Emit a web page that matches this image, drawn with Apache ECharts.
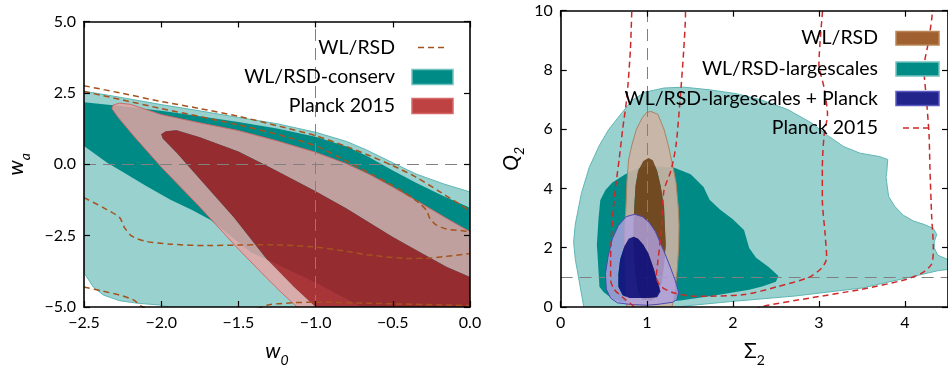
<!DOCTYPE html>
<html>
<head>
<meta charset="utf-8">
<script src="https://cdn.jsdelivr.net/npm/echarts@6.0.0/dist/echarts.min.js"></script>
<style>
  html, body { margin: 0; padding: 0; background: #fff; }
  #chart { width: 948px; height: 372px; }
</style>
</head>
<body>
<div id="chart"></div>
<script>
// ---------- left panel: w0 / wa ----------
const wTicksX = [-2.5, -2.0, -1.5, -1.0, -0.5, 0.0];
const wTicksY = [-5.0, -2.5, 0.0, 2.5, 5.0];

// WL/RSD-conserv, outer (2 sigma) contour
const conservOuter = [[-2.6,2.64],[-2.5,2.56],[-2.25,2.33],[-2.0,2.09],[-1.75,1.87],[-1.5,1.64],[-1.25,1.42],
  [-1.0,1.12],[-0.8,0.80],[-0.67,0.50],[-0.5,0.05],[-0.35,-0.34],[-0.17,-0.69],[0,-0.97],[0.1,-1.1],
  [0.1,-6.0],[-1.85,-6.0],[-1.85,-5.3],[-1.95,-5.0],[-2.01,-4.93],[-2.15,-4.87],[-2.27,-4.78],
  [-2.375,-4.58],[-2.44,-4.3],[-2.5,-3.8],[-2.6,-3.5]];
// WL/RSD-conserv, inner (1 sigma) contour
const conservInner = [[-2.6,2.25],[-2.5,2.17],[-2.25,2.03],[-2.0,1.87],[-1.75,1.68],[-1.5,1.48],[-1.25,1.25],
  [-1.0,0.96],[-0.8,0.62],[-0.67,0.30],[-0.5,-0.22],[-0.35,-0.65],[-0.17,-1.12],[0,-1.52],[0.1,-1.7],
  [0.1,-6.0],[-0.5,-6.0],[-0.6,-5.3],[-0.71,-4.97],[-1.0,-4.15],[-1.25,-3.5],[-1.42,-3.08],[-1.53,-2.6],
  [-1.68,-1.95],[-1.8,-1.6],[-1.94,-1.24],[-2.1,-0.75],[-2.24,-0.3],[-2.35,0.05],[-2.5,0.64],[-2.6,0.9]];
// Planck 2015, outer contour
const planckOuter = [[-2.32,1.95],[-2.31,2.08],[-2.27,2.14],[-2.2,2.1],[-2.0,1.74],[-1.75,1.45],[-1.5,1.18],
  [-1.25,0.82],[-1.0,0.42],[-0.8,0.02],[-0.65,-0.36],[-0.5,-0.8],[-0.3,-1.42],[-0.15,-1.9],
  [0,-2.36],[0.3,-2.9],[0.3,-6.5],[-0.9,-6.5],[-1.04,-5.5],[-1.12,-5.0],[-1.23,-4.45],[-1.32,-3.97],
  [-1.5,-2.97],[-1.75,-1.5],[-2.0,-0.1],[-2.18,1.0],[-2.28,1.65]];
// Planck 2015, inner contour
const planckInner = [[-2.0,1.05],[-1.97,1.16],[-1.9,1.19],[-1.75,0.95],[-1.5,0.45],[-1.3,-0.1],[-1.0,-0.95],
  [-0.8,-1.55],[-0.65,-2.05],[-0.5,-2.55],[-0.3,-3.15],[-0.15,-3.6],[0,-3.95],[0.2,-4.2],[0.2,-6.2],
  [-0.85,-6.2],[-0.9,-5.6],[-1.0,-5.0],[-1.14,-4.3],[-1.32,-3.3],[-1.53,-1.86],[-1.75,-0.52],[-1.9,0.4],[-1.99,0.9]];
// WL/RSD dashed contours
const wlUpper = [[-2.5,2.75],[-2.25,2.48],[-2.0,2.2],[-1.75,1.95],[-1.5,1.68],[-1.25,1.35],[-1.0,1.0],
  [-0.8,0.62],[-0.65,0.3],[-0.5,-0.05],[-0.35,-0.45],[-0.2,-0.95],[0,-1.63]];
const wlLower = [[-2.5,2.55],[-2.25,2.25],[-2.0,1.95],[-1.75,1.67],[-1.5,1.38],[-1.25,1.05],[-1.0,0.65],
  [-0.85,0.25],[-0.69,-0.2],[-0.55,-0.6],[-0.43,-0.97],[-0.33,-1.35],[-0.28,-1.63],[-0.26,-1.9],
  [-0.22,-2.12],[-0.15,-2.27],[-0.05,-2.33],[0,-2.36]];
const wlMiddle = [[-2.5,-1.17],[-2.375,-1.52],[-2.27,-1.86],[-2.24,-2.2],[-2.19,-2.52],[-2.1,-2.7],
  [-1.94,-2.8],[-1.7,-2.85],[-1.5,-2.83],[-1.3,-2.82],[-1.0,-2.9],[-0.8,-3.05],[-0.65,-3.18],
  [-0.4,-3.3],[-0.25,-3.28],[0,-3.13]];
const wlBottom = [[-2.5,-4.3],[-2.375,-4.45],[-2.27,-4.58],[-2.18,-4.75],[-2.12,-5.0],[-1.95,-5.3],
  [-1.6,-5.4],[-1.4,-5.1],[-1.3,-4.92],[-1.14,-4.85],[-1.0,-4.83],[-0.65,-4.87],[0,-4.95]];
const wRef = { x: -1.0, y: 0.0 };

// ---------- right panel: Sigma2 / Q2 ----------
const sTicksX = [0, 1, 2, 3, 4];
const qTicksY = [0, 2, 4, 6, 8, 10];

// WL/RSD-largescales, outer contour
const largeOuter = [[0.28,-0.2],[0.25,0.3],[0.2,1.12],[0.17,1.6],[0.15,2.2],[0.17,2.8],[0.24,3.83],[0.33,4.7],
  [0.45,5.46],[0.56,6.0],[0.71,6.55],[0.83,6.98],[0.98,7.25],[1.2,7.39],[1.43,7.42],[1.73,7.33],[2.04,7.2],
  [2.34,6.98],[2.64,6.66],[2.91,6.22],[3.1,5.79],[3.29,5.41],[3.48,5.19],[3.7,5.08],[3.8,4.98],[3.79,4.6],
  [3.78,4.38],[3.81,3.73],[3.88,3.4],[3.98,3.1],[4.1,2.9],[4.21,2.8],[4.33,2.65],[4.37,2.45],[4.34,2.2],
  [4.34,2.0],[4.38,1.75],[4.5,1.6],[4.6,1.5],[4.6,1.3],[4.39,1.23],[4.05,1.0],[3.5,0.64],[2.72,0.37],
  [1.96,0.18],[1.43,0.03],[1.3,-0.2]];
// WL/RSD-largescales, inner contour
const largeInner = [[0.5,0.5],[0.45,0.68],[0.43,1.66],[0.42,2.1],[0.44,3.0],[0.46,3.6],[0.52,3.95],[0.6,4.2],
  [0.75,4.48],[0.9,4.68],[1.02,4.76],[1.32,4.7],[1.51,4.48],[1.66,4.05],[1.73,3.62],[1.85,3.29],[2.0,2.96],
  [2.13,2.6],[2.19,1.99],[2.27,1.66],[2.42,1.34],[2.53,1.05],[2.5,0.85],[2.35,0.7],[2.19,0.58],[1.77,0.38],
  [1.39,0.22],[1.0,0.15],[0.7,0.18],[0.6,0.28]];
// WL/RSD, outer and inner contours
const wlrOuter = [[1.05,6.6],[1.13,6.5],[1.2,6.0],[1.25,5.46],[1.3,4.8],[1.34,4.2],[1.365,3.4],[1.375,2.75],
  [1.37,2.0],[1.355,1.3],[1.33,0.6],[1.3,0.1],[1.27,-0.3],[0.8,-0.3],[0.76,0.14],[0.75,1.12],[0.74,2.0],
  [0.745,2.75],[0.76,3.5],[0.77,4.27],[0.79,5.0],[0.83,5.5],[0.88,6.0],[0.95,6.4],[1.0,6.57]];
const wlrInner = [[1.02,5.03],[1.07,4.95],[1.12,4.6],[1.16,4.1],[1.2,3.4],[1.21,2.75],[1.22,2.1],[1.2,1.4],
  [1.17,0.8],[1.12,0.4],[1.05,0.22],[0.95,0.25],[0.9,0.5],[0.87,1.1],[0.85,1.8],[0.845,2.6],[0.855,3.4],
  [0.87,4.1],[0.9,4.6],[0.96,4.93]];
// WL/RSD-largescales + Planck, outer and inner contours
const comboOuter = [[0.86,3.13],[0.95,3.05],[1.03,2.85],[1.1,2.55],[1.2,1.88],[1.28,1.3],[1.33,0.9],[1.37,0.5],
  [1.35,0.25],[1.3,0.16],[1.13,0.09],[1.0,0.06],[0.83,0.08],[0.66,0.14],[0.58,0.3],[0.53,0.6],[0.52,1.12],
  [0.55,1.7],[0.6,2.3],[0.67,2.75],[0.76,3.05]];
const comboInner = [[0.845,2.37],[0.9,2.3],[0.96,2.1],[1.02,1.8],[1.08,1.3],[1.12,0.9],[1.16,0.52],[1.12,0.33],
  [1.0,0.3],[0.8,0.3],[0.72,0.4],[0.67,0.68],[0.67,1.1],[0.69,1.6],[0.74,2.05],[0.79,2.3]];
// Planck 2015 dashed contours
const plLeft = [[0.83,10.3],[0.825,9.9],[0.81,8.7],[0.77,7.1],[0.72,6.0],[0.68,5.0],[0.64,4.1],[0.61,3.3],
  [0.59,2.4],[0.58,1.6],[0.58,0.9],[0.62,0.6],[0.67,0.45],[0.75,0.25],[0.81,0.12],[0.87,-0.05]];
const plRight = [[2.25,-0.1],[2.36,0.03],[2.89,0.3],[3.5,0.6],[4.0,0.92],[4.2,1.15],[4.31,1.45],[4.33,1.99],
  [4.31,3.07],[4.29,4.7],[4.28,5.8],[4.25,7.0],[4.22,8.07],[4.27,8.9],[4.31,9.7],[4.33,10.3]];
const plInner = [[1.45,10.3],[1.45,9.9],[1.43,8.7],[1.39,7.1],[1.34,5.46],[1.28,4.59],[1.2,3.94],[1.17,2.64],
  [1.13,1.55],[1.11,1.01],[1.17,0.68],[1.32,0.47],[1.58,0.36],[2.13,0.42],[2.51,0.68],[2.89,1.01],[3.04,1.34],
  [3.09,1.66],[3.07,2.53],[3.04,3.62],[3.04,4.7],[3.06,5.79],[3.1,6.5],[3.06,7.4],[3.0,8.2],[3.02,9.2],
  [3.04,9.9],[3.05,10.3]];
const sRef = { x: 1.0, y: 1.0 };

const FONT = 'Lato';
const minus = s => String(s).replace('-', '\u2212');

// closed sub-path in pixel space
function ringPath(pts) {
  return 'M' + pts.map(p => p[0].toFixed(2) + ' ' + p[1].toFixed(2)).join('L') + 'Z';
}
function signedArea(pts) {
  let a = 0;
  for (let i = 0; i < pts.length; i++) {
    const p = pts[i], q = pts[(i + 1) % pts.length];
    a += p[0] * q[1] - q[0] * p[1];
  }
  return a;
}

// filled contour region; the optional hole keeps the band separate from its inner level
function region(name, gi, outer, hole, fill, stroke, z) {
  return {
    type: 'custom', name: name, xAxisIndex: gi * 2, yAxisIndex: gi * 2, coordinateSystem: 'cartesian2d',
    clip: true, silent: true, z: z, data: [[0, 0]],
    renderItem: function (params, api) {
      const o = outer.map(p => api.coord(p));
      let d = ringPath(o);
      if (hole) {
        let h = hole.map(p => api.coord(p));
        if (Math.sign(signedArea(h)) === Math.sign(signedArea(o))) h = h.slice().reverse();
        d += ringPath(h);
      }
      const children = [{ type: 'path', shape: { pathData: d }, style: { fill: fill, stroke: null } }];
      if (stroke) {
        children.push({ type: 'polygon', shape: { points: o }, style: { fill: null, stroke: stroke, lineWidth: 1 } });
      }
      return { type: 'group', children: children };
    }
  };
}

function dashed(name, gi, pts, color, z) {
  return {
    type: 'line', name: name, xAxisIndex: gi * 2, yAxisIndex: gi * 2, data: pts,
    showSymbol: false, symbol: 'none', smooth: 0.25, silent: true, z: z, clip: true,
    lineStyle: { color: color, width: 1.5, type: [6, 4] }
  };
}

function refLines(gi, ref) {
  return {
    type: 'line', xAxisIndex: gi * 2, yAxisIndex: gi * 2, data: [], silent: true, z: 8,
    markLine: {
      silent: true, symbol: 'none', animation: false, label: { show: false },
      lineStyle: { color: '#808080', width: 1, type: [12, 7] },
      data: [{ xAxis: ref.x }, { yAxis: ref.y }]
    }
  };
}

function xAxis(gi, pos, ticks, fmt, nameRich) {
  return {
    type: 'value', gridIndex: gi, position: pos, min: ticks[0], max: gi === 0 ? ticks[ticks.length - 1] : 4.5,
    interval: ticks[1] - ticks[0], z: 10,
    axisLine: { show: true, onZero: false, lineStyle: { color: '#000', width: 1.6 } },
    axisTick: { show: true, inside: true, length: 6, lineStyle: { color: '#000', width: 1.2 } },
    axisLabel: { show: pos === 'bottom', color: '#000', fontSize: 16, fontFamily: FONT, margin: 8,
      showMaxLabel: gi === 0, formatter: fmt },
    splitLine: { show: false },
    name: pos === 'bottom' ? nameRich.text : '', nameLocation: 'middle', nameGap: 34,
    nameTextStyle: { color: '#000', rich: nameRich.rich }
  };
}
function yAxis(gi, pos, ticks, fmt, nameRich, gap) {
  return {
    type: 'value', gridIndex: gi, position: pos, min: ticks[0], max: ticks[ticks.length - 1],
    interval: ticks[1] - ticks[0], z: 10,
    axisLine: { show: true, onZero: false, lineStyle: { color: '#000', width: 1.6 } },
    axisTick: { show: true, inside: true, length: 6, lineStyle: { color: '#000', width: 1.2 } },
    axisLabel: { show: pos === 'left', color: '#000', fontSize: 16, fontFamily: FONT, margin: 8, formatter: fmt },
    splitLine: { show: false },
    name: pos === 'left' ? nameRich.text : '', nameLocation: 'middle', nameGap: gap, nameRotate: 90,
    nameTextStyle: { color: '#000', rich: nameRich.rich }
  };
}

const mathRich = (italic) => ({
  m: { fontSize: 21, fontFamily: FONT, fontStyle: italic ? 'italic' : 'normal', color: '#000',
       verticalAlign: 'bottom', padding: [0, 0, 5, 0] },
  s: { fontSize: 14, fontFamily: FONT, fontStyle: italic ? 'italic' : 'normal', color: '#000', verticalAlign: 'bottom' }
});
const nameW0 = { text: '{m|w}{s|0}', rich: mathRich(true) };
const nameWa = { text: '{m|w}{s|a}', rich: mathRich(true) };
const nameS2 = { text: '{m|\u03A3}{s|2}', rich: mathRich(false) };
const nameQ2 = { text: '{m|Q}{s|2}', rich: mathRich(true) };

const fmtDec = v => minus(v.toFixed(1));
const fmtInt = v => Number.isInteger(v) ? String(v) : '';

const C = {
  lightTeal: '#99d1cf', lightTealEdge: '#5fb6b3', darkTeal: '#008a86',
  planckOuter: 'rgba(227,164,165,0.84)', planckOuterEdge: 'rgba(205,100,100,0.9)',
  planckInner: 'rgba(170,32,36,0.88)',
  wlDash: '#a5531d', plDash: '#cc2a2a',
  tan: 'rgba(205,179,163,0.9)', tanEdge: '#a98463', brown: 'rgba(118,72,30,0.96)',
  lavender: 'rgba(176,160,222,0.82)', lavenderEdge: '#4a4ab0', navy: 'rgba(18,18,128,0.93)'
};

const chart = echarts.init(document.getElementById('chart'), null, { renderer: 'canvas' });

function legendText(x, y, text) {
  return { type: 'text', x: x, y: y, z: 100,
    style: { text: text, font: '19.5px ' + FONT, fill: '#000', align: 'right', verticalAlign: 'middle',
             textAlign: 'right', textVerticalAlign: 'middle' } };
}
function legendPatch(x, y, w, h, fill, edge) {
  return { type: 'rect', z: 100, shape: { x: x, y: y, width: w, height: h },
    style: { fill: fill, stroke: edge, lineWidth: 1.5 } };
}
function legendDash(x1, x2, y, color) {
  return { type: 'line', z: 100, shape: { x1: x1, y1: y, x2: x2, y2: y },
    style: { stroke: color, lineWidth: 1.5, lineDash: [6, 4] } };
}

chart.setOption({
  animation: false,
  backgroundColor: '#fff',
  grid: [
    { left: 84, top: 21.5, width: 386, height: 299.5, containLabel: false },
    { left: 560.7, top: 10.7, width: 396, height: 307, containLabel: false }
  ],
  xAxis: [
    xAxis(0, 'bottom', wTicksX, fmtDec, nameW0), xAxis(0, 'top', wTicksX, fmtDec, nameW0),
    xAxis(1, 'bottom', sTicksX, fmtInt, nameS2), xAxis(1, 'top', sTicksX, fmtInt, nameS2)
  ],
  yAxis: [
    yAxis(0, 'left', wTicksY, fmtDec, nameWa, 52), yAxis(0, 'right', wTicksY, fmtDec, nameWa, 52),
    yAxis(1, 'left', qTicksY, fmtInt, nameQ2, 34), yAxis(1, 'right', qTicksY, fmtInt, nameQ2, 34)
  ],
  series: [
    region('WL/RSD-conserv 2s', 0, conservOuter, null, C.lightTeal, C.lightTealEdge, 1),
    region('WL/RSD-conserv 1s', 0, conservInner, null, C.darkTeal, null, 2),
    region('Planck 2015 2s', 0, planckOuter, planckInner, C.planckOuter, C.planckOuterEdge, 3),
    region('Planck 2015 1s', 0, planckInner, null, C.planckInner, null, 4),
    dashed('WL/RSD a', 0, wlUpper, C.wlDash, 6),
    dashed('WL/RSD b', 0, wlLower, C.wlDash, 6),
    dashed('WL/RSD c', 0, wlMiddle, C.wlDash, 6),
    dashed('WL/RSD d', 0, wlBottom, C.wlDash, 6),
    refLines(0, wRef),

    region('WL/RSD-largescales 2s', 1, largeOuter, null, C.lightTeal, C.lightTealEdge, 1),
    region('WL/RSD-largescales 1s', 1, largeInner, null, C.darkTeal, null, 2),
    region('WL/RSD 2s', 1, wlrOuter, wlrInner, C.tan, C.tanEdge, 3),
    region('WL/RSD 1s', 1, wlrInner, null, C.brown, null, 4),
    region('combined 2s', 1, comboOuter, comboInner, C.lavender, C.lavenderEdge, 5),
    region('combined 1s', 1, comboInner, null, C.navy, null, 6),
    dashed('Planck a', 1, plLeft, C.plDash, 7),
    dashed('Planck b', 1, plRight, C.plDash, 7),
    dashed('Planck c', 1, plInner, C.plDash, 7),
    refLines(1, sRef)
  ],
  graphic: [
    legendText(395, 48, 'WL/RSD'), legendDash(418, 446, 47.5, C.wlDash),
    legendText(395, 77, 'WL/RSD-conserv'), legendPatch(412, 69.5, 41, 15, '#008b87', '#6fc2bf'),
    legendText(395, 106, 'Planck 2015'), legendPatch(412, 98.5, 41, 15, '#bf4242', '#d66a6a'),

    legendText(878, 38, 'WL/RSD'), legendPatch(896, 31.5, 43, 13.5, '#a0602f', '#b98558'),
    legendText(878, 69, 'WL/RSD-largescales'), legendPatch(896, 62, 43, 14, '#008b87', '#6fc2bf'),
    legendText(878, 99, 'WL/RSD-largescales + Planck'), legendPatch(896, 91.5, 43, 14, '#23238c', '#5a5ac0'),
    legendText(878, 128, 'Planck 2015'), legendDash(903, 931, 128, C.plDash)
  ]
});
</script>
</body>
</html>
